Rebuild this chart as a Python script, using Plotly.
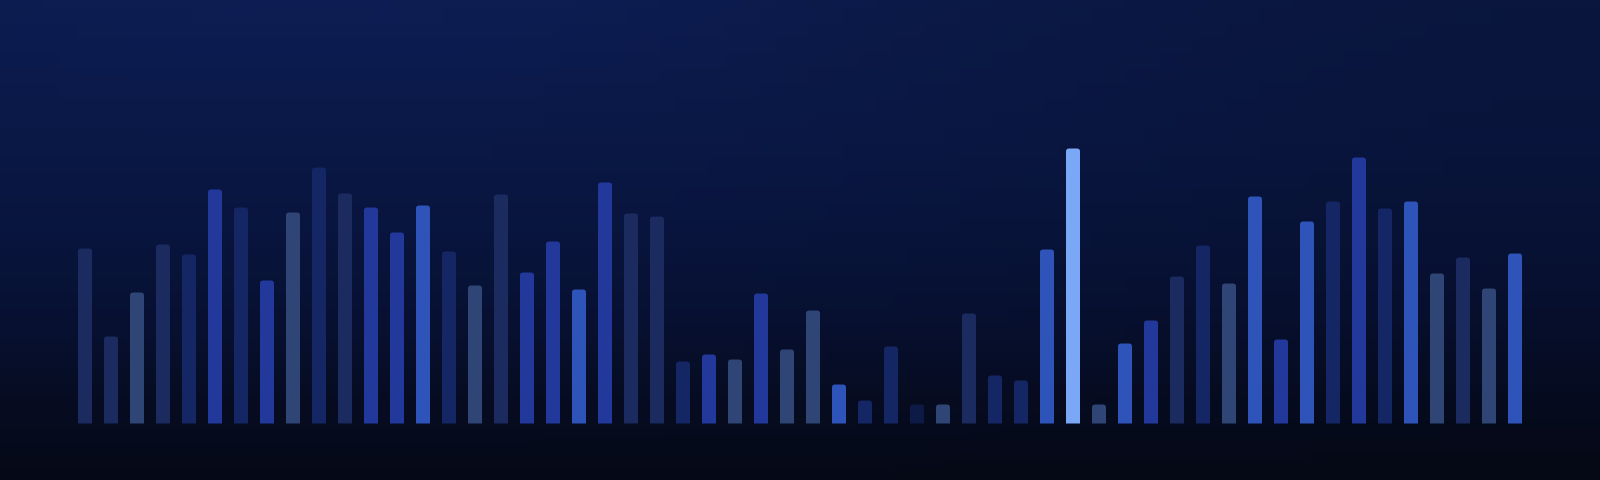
import base64
import struct
import zlib

import plotly.graph_objects as go

# ---- data ----
bar_index = list(range(56))
values = [175, 87, 131, 179, 169, 234, 216, 143, 211, 256,
          230, 216, 191, 218, 172, 138, 229, 151, 182, 134,
          241, 210, 207, 62, 69, 64, 130, 74, 113, 39,
          23, 77, 19, 19, 110, 48, 43, 174, 275, 19,
          80, 103, 147, 178, 140, 227, 84, 202, 222, 266,
          215, 222, 150, 166, 135, 170]
tones = ["G", "G", "A", "G", "D", "B", "D", "B", "A", "D",
         "G", "B", "B", "C", "D", "A", "G", "B", "B", "C",
         "B", "G", "G", "D", "B", "A", "B", "A", "A", "C",
         "D", "D", "E", "A", "G", "D", "D", "C", "F", "A",
         "C", "B", "G", "D", "A", "C", "B", "C", "D", "B",
         "D", "C", "A", "G", "A", "C"]

palette = {
    "A": "#2f4575",
    "B": "#22399b",
    "C": "#2e53b9",
    "D": "#152665",
    "E": "#0d1a45",
    "F": "#7aa8f6",
    "G": "#1b2b60",
}
colors = [palette[t] for t in tones]

# ---- background gradient image (styling only) ----
def lerp(c1, c2, t):
    return tuple(c1[i] + (c2[i] - c1[i]) * t for i in range(3))

stops = [(0.0, (12, 27, 77)), (0.3, (10, 24, 70)), (0.52, (8, 20, 60)),
         (0.69, (7, 16, 48)), (0.83, (6, 12, 34)), (1.0, (5, 9, 22))]

def color_at(p):
    for (p0, c0), (p1, c1) in zip(stops[:-1], stops[1:]):
        if p0 <= p <= p1:
            return lerp(c0, c1, (p - p0) / (p1 - p0))
    return stops[-1][1]

def smooth(a, b, v):
    t = min(1.0, max(0.0, (v - a) / (b - a)))
    return t * t * (3 - 2 * t)

W, H = 96, 32
rows = []
for r in range(H):
    py = (r + 0.5) / H
    base = color_at(py)
    row = bytearray()
    for c in range(W):
        px = (c + 0.5) / W
        dark = 1 - 0.2 * smooth(0.3, 1.0, px) * (1 - 0.6 * py)
        glow = 1 + 0.08 * smooth(0.45, 0.0, abs(px - 0.2)) * smooth(0.35, 0.0, py)
        for v in base:
            row.append(max(0, min(255, round(v * dark * glow))))
    rows.append(bytes(row))

def make_png(w, h, data_rows):
    raw = b"".join(b"\x00" + rw for rw in data_rows)
    def chunk(tag, data):
        return (struct.pack(">I", len(data)) + tag + data +
                struct.pack(">I", zlib.crc32(tag + data) & 0xFFFFFFFF))
    return (b"\x89PNG\r\n\x1a\n" +
            chunk(b"IHDR", struct.pack(">IIBBBBB", w, h, 8, 2, 0, 0, 0)) +
            chunk(b"IDAT", zlib.compress(raw, 9)) +
            chunk(b"IEND", b""))

bg_uri = "data:image/png;base64," + base64.b64encode(make_png(W, H, rows)).decode()

fig = go.Figure()
fig.add_trace(go.Bar(
    x=bar_index, y=values,
    marker=dict(color=colors, line=dict(width=0)),
    hoverinfo="skip",
))

px_per_unit = 26.0
x0 = -85.0 / px_per_unit
x1 = x0 + 1600.0 / px_per_unit
baseline_px = 423.5

fig.update_layout(
    width=1600, height=480,
    margin=dict(l=0, r=0, t=0, b=0),
    paper_bgcolor="#070f2c",
    plot_bgcolor="rgba(0,0,0,0)",
    bargap=1 - 14.0 / 26.0,
    barcornerradius=3,
    showlegend=False,
    images=[dict(source=bg_uri, xref="paper", yref="paper", x=0, y=1,
                 sizex=1, sizey=1, sizing="stretch", xanchor="left",
                 yanchor="top", layer="below")],
    xaxis=dict(range=[x0, x1], visible=False, fixedrange=True),
    yaxis=dict(range=[-(480 - baseline_px), baseline_px], visible=False, fixedrange=True),
)

fig.write_html(
    "out.html",
    config={"displayModeBar": False},
    post_script="document.body.style.margin='0';document.body.style.overflow='hidden';document.body.style.background='#050a18';",
)
